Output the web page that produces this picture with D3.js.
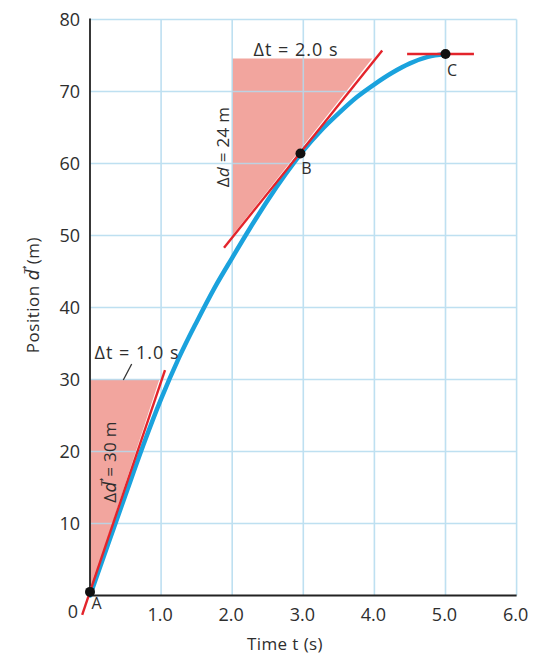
<!DOCTYPE html>
<html><head><meta charset="utf-8">
<script src="https://cdn.jsdelivr.net/npm/d3@7/dist/d3.min.js"></script>
<style>body{margin:0;background:#fff} svg{display:block}</style>
</head><body><svg id="c" width="536" height="656"></svg>
<script>
// ---- data ----
const xTicks = [1, 2, 3, 4, 5, 6];
const xTickLabels = ["1.0", "2.0", "3.0", "4.0", "5.0", "6.0"];
const yTicks = [10, 20, 30, 40, 50, 60, 70, 80];
const curveT = [0, 0.25, 0.5, 0.75, 1.0, 1.25, 1.5, 1.75, 2.0, 2.25, 2.5, 2.75, 3.0, 3.25, 3.5, 3.75, 4.0, 4.25, 4.5, 4.75, 5.0];
const curveD = [0, 7.0, 14.0, 20.9, 27.3, 33.0, 38.0, 42.7, 46.9, 51.0, 54.9, 58.5, 61.8, 64.6, 67.0, 69.2, 71.0, 72.6, 73.9, 74.8, 75.2];
const pointNames = ["A", "B", "C"];
const pointT = [0, 2.96, 5.0];
const pointD = [0.5, 61.4, 75.2];
const tangentA = [[-0.11, -2.7], [1.055, 31.3]];
const tangentB = [[1.885, 48.3], [4.11, 75.7]];
const tangentC = [[4.46, 75.2], [5.4, 75.2]];
const triangleA = [[0, 0.5], [0, 30], [0.975, 30]];
const triangleB = [[2.0, 50.0], [2.0, 74.6], [3.97, 74.6]];

// ---- scales ----
const x = d3.scaleLinear().domain([0, 6]).range([90, 516.6]);
const y = d3.scaleLinear().domain([0, 80]).range([595.5, 19.5]);
const svg = d3.select("#c");
const FONT = "'Open Sans', 'DejaVu Sans', sans-serif";
const TXT = "#2e2e2e";

// triangles
const poly = d3.line().x(p => x(p[0])).y(p => y(p[1]));
[triangleA, triangleB].forEach(tri => {
  svg.append("path").attr("d", poly(tri) + "Z").attr("fill", "#f2a59e");
});

// grid
const grid = svg.append("g").attr("stroke", "#b3dbef").attr("stroke-width", 1.6).attr("opacity", 0.85);
grid.selectAll("line.v").data(xTicks).join("line")
  .attr("x1", d => x(d)).attr("x2", d => x(d)).attr("y1", y(80)).attr("y2", y(0));
grid.selectAll("line.h").data(yTicks).join("line")
  .attr("x1", x(0)).attr("x2", x(6)).attr("y1", d => y(d)).attr("y2", d => y(d));

// axes
svg.append("line").attr("x1", x(0)).attr("x2", x(0)).attr("y1", y(80) - 1).attr("y2", y(0))
  .attr("stroke", "#222").attr("stroke-width", 1.8);
svg.append("line").attr("x1", x(0)).attr("x2", x(6)).attr("y1", y(0)).attr("y2", y(0))
  .attr("stroke", "#222").attr("stroke-width", 1.8);

// tick labels
svg.append("g").selectAll("text").data(yTicks).join("text")
  .attr("x", 80).attr("y", d => y(d)).attr("dy", "0.36em")
  .attr("text-anchor", "end").attr("font-family", FONT).attr("font-size", 18).attr("fill", TXT)
  .text(d => d);
svg.append("g").selectAll("text").data(xTicks).join("text")
  .attr("x", d => x(d) - 1).attr("y", 621)
  .attr("text-anchor", "middle").attr("font-family", FONT).attr("font-size", 18).attr("fill", TXT)
  .text((d, i) => xTickLabels[i]);
svg.append("text").attr("x", 73).attr("y", 618).attr("text-anchor", "middle")
  .attr("font-family", FONT).attr("font-size", 18).attr("fill", TXT).text("0");

// axis titles
svg.append("text").attr("x", 285).attr("y", 650).attr("text-anchor", "middle")
  .attr("font-family", FONT).attr("font-size", 17).attr("letter-spacing", 0.4).attr("fill", TXT).text("Time t (s)");
const yt = svg.append("text").attr("transform", "translate(39,295) rotate(-90)")
  .attr("text-anchor", "middle").attr("font-family", FONT).attr("font-size", 17).attr("letter-spacing", 0.5).attr("fill", TXT);
yt.append("tspan").text("Position ");
yt.append("tspan").attr("font-style", "italic").text("d\u20D7");
yt.append("tspan").text(" (m)");

// curve
const line = d3.line().x((d, i) => x(curveT[i])).y((d, i) => y(curveD[i])).curve(d3.curveMonotoneX);
svg.append("path").attr("d", line(curveT)).attr("fill", "none")
  .attr("stroke", "#1aa2dd").attr("stroke-width", 4.5).attr("stroke-linecap", "round");

// tangents
[tangentA, tangentB, tangentC].forEach(tg => {
  svg.append("path").attr("d", poly(tg)).attr("stroke", "#e3242b").attr("stroke-width", 2.4).attr("fill", "none");
});

// points
svg.append("g").selectAll("circle").data(pointT).join("circle")
  .attr("cx", d => x(d)).attr("cy", (d, i) => y(pointD[i])).attr("r", 5).attr("fill", "#111");
const labOff = [[6.5, 17.5], [6, 21], [6.5, 22]];
svg.append("g").selectAll("text").data(pointNames).join("text")
  .attr("x", (d, i) => x(pointT[i]) + labOff[i][0]).attr("y", (d, i) => y(pointD[i]) + labOff[i][1])
  .attr("text-anchor", "middle").attr("font-family", FONT).attr("font-size", 16).attr("fill", TXT)
  .text(d => d);

// annotations
svg.append("text").attr("x", 296).attr("y", 56).attr("text-anchor", "middle")
  .attr("font-family", FONT).attr("font-size", 18).attr("letter-spacing", 1).attr("fill", TXT).text("\u0394t = 2.0 s");
svg.append("text").attr("x", 137).attr("y", 359).attr("text-anchor", "middle")
  .attr("font-family", FONT).attr("font-size", 18).attr("letter-spacing", 1).attr("fill", TXT).text("\u0394t = 1.0 s");
svg.append("line").attr("x1", 123.3).attr("y1", 380).attr("x2", 131.7).attr("y2", 364)
  .attr("stroke", "#333").attr("stroke-width", 1.3);

const a1 = svg.append("text").attr("transform", "translate(229,147) rotate(-90)")
  .attr("text-anchor", "middle").attr("font-family", FONT).attr("font-size", 17).attr("letter-spacing", 0.3).attr("fill", TXT);
a1.append("tspan").text("\u0394");
a1.append("tspan").attr("font-style", "italic").text("d");
a1.append("tspan").text(" = 24 m");

const a2 = svg.append("text").attr("transform", "translate(116,462) rotate(-90)")
  .attr("text-anchor", "middle").attr("font-family", FONT).attr("font-size", 17).attr("letter-spacing", 0.3).attr("fill", TXT);
a2.append("tspan").text("\u0394");
a2.append("tspan").attr("font-style", "italic").text("d\u20D7");
a2.append("tspan").text(" = 30 m");
</script></body></html>
